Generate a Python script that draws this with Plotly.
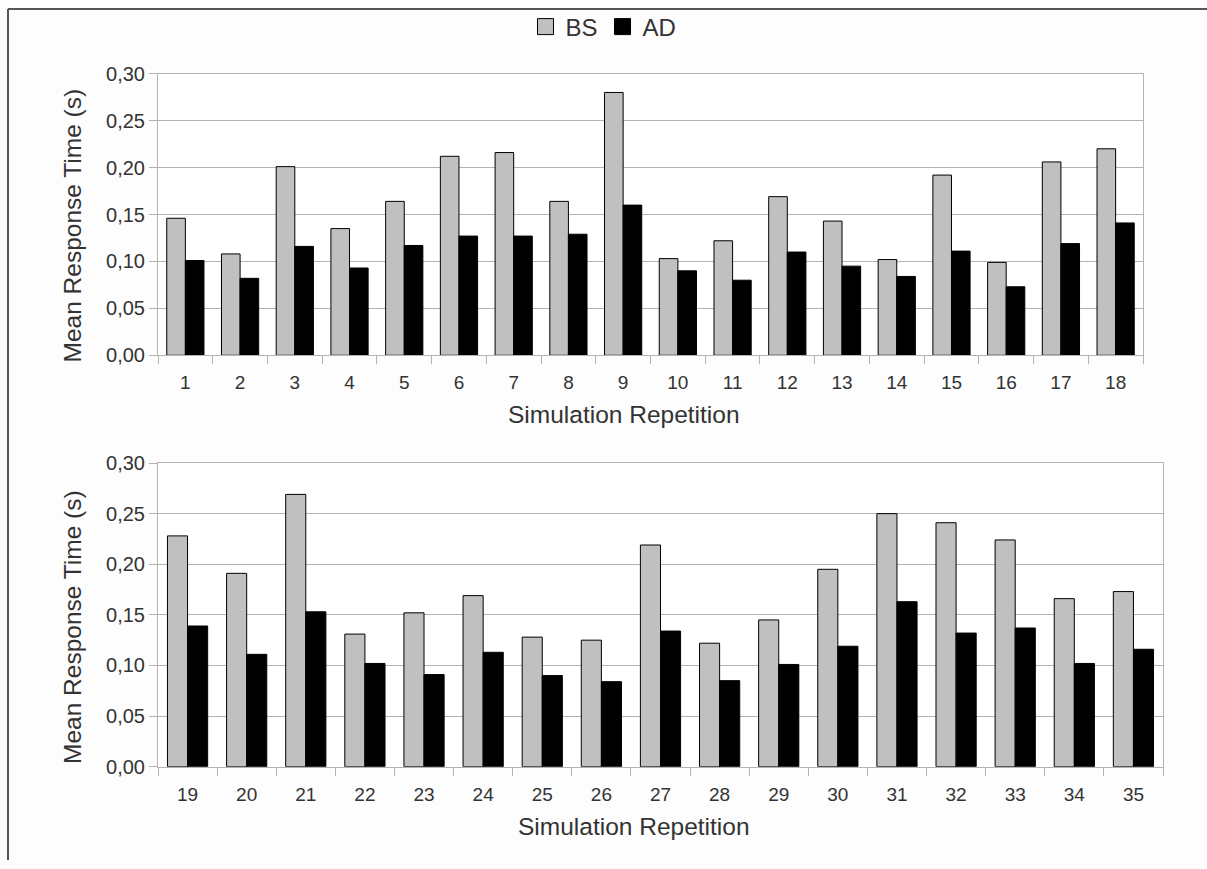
import plotly.graph_objects as go

# Mean response time per simulation repetition, BS vs AD
reps_top = [str(i) for i in range(1, 19)]
bs_top = [0.146, 0.108, 0.201, 0.135, 0.164, 0.212, 0.216, 0.164, 0.280,
          0.103, 0.122, 0.169, 0.143, 0.102, 0.192, 0.099, 0.206, 0.220]
ad_top = [0.101, 0.082, 0.116, 0.093, 0.117, 0.127, 0.127, 0.129, 0.160,
          0.090, 0.080, 0.110, 0.095, 0.084, 0.111, 0.073, 0.119, 0.141]

reps_bottom = [str(i) for i in range(19, 36)]
bs_bottom = [0.228, 0.191, 0.269, 0.131, 0.152, 0.169, 0.128, 0.125, 0.219,
             0.122, 0.145, 0.195, 0.250, 0.241, 0.224, 0.166, 0.173]
ad_bottom = [0.139, 0.111, 0.153, 0.102, 0.091, 0.113, 0.090, 0.084, 0.134,
             0.085, 0.101, 0.119, 0.163, 0.132, 0.137, 0.102, 0.116]

y_ticks = [0.0, 0.05, 0.10, 0.15, 0.20, 0.25, 0.30]

series_names = ["BS", "AD"]
series_colors = ["#c0c0c0", "#000000"]

W, H = 1207, 869
FONT = "Liberation Sans"
TXT = "#333333"
GRID = "#b3b3b3"


def px_x(p):
    return p / W


def px_y(p):
    return 1 - p / H


fig = go.Figure()

panels = [("x", "y", reps_top, [bs_top, ad_top]),
          ("x2", "y2", reps_bottom, [bs_bottom, ad_bottom])]
for xa, ya, cats, values in panels:
    for name, color, vals in zip(series_names, series_colors, values):
        fig.add_trace(go.Bar(x=cats, y=vals, name=name, showlegend=False,
                             marker=dict(color=color, line=dict(color="#000000", width=1)),
                             xaxis=xa, yaxis=ya))

# legend entries with larger square swatches
for name, color in zip(series_names, series_colors):
    fig.add_trace(go.Scatter(x=[None], y=[None], name=name, mode="markers",
                             marker=dict(symbol="square", size=16, color=color,
                                         line=dict(color="#000000", width=1)),
                             xaxis="x", yaxis="y", hoverinfo="skip"))

xaxis_common = dict(
    type="category", showgrid=False, showline=True, linecolor=GRID, linewidth=1, mirror=True,
    ticks="outside", tickson="boundaries", ticklen=8, tickcolor=GRID, tickwidth=1,
    tickfont=dict(family=FONT, size=19, color=TXT), automargin=False, ticklabelstandoff=10,
)
yaxis_common = dict(
    range=[0, 0.30], tickvals=y_ticks, tickformat=".2f",
    showgrid=True, gridcolor=GRID, gridwidth=1, zeroline=False,
    showline=True, linecolor=GRID, linewidth=1, mirror=True,
    ticks="outside", ticklen=8, tickcolor=GRID, tickwidth=1,
    tickfont=dict(family=FONT, size=20, color=TXT), automargin=False,
)

title_font = dict(family=FONT, size=24.5, color=TXT)
annotations = [
    dict(text="Simulation Repetition", x=px_x(624.5), y=px_y(414), xref="paper", yref="paper",
         showarrow=False, xanchor="center", yanchor="middle", font=title_font),
    dict(text="Simulation Repetition", x=px_x(634), y=px_y(826), xref="paper", yref="paper",
         showarrow=False, xanchor="center", yanchor="middle", font=title_font),
    dict(text="Mean Response Time (s)", x=px_x(72), y=px_y(225.5), xref="paper", yref="paper",
         showarrow=False, xanchor="center", yanchor="middle", textangle=-90, font=title_font),
    dict(text="Mean Response Time (s)", x=px_x(72), y=px_y(627), xref="paper", yref="paper",
         showarrow=False, xanchor="center", yanchor="middle", textangle=-90, font=title_font),
]

fig.update_layout(
    template="none",
    width=W, height=H,
    margin=dict(l=0, r=0, t=0, b=0, pad=0, autoexpand=False),
    paper_bgcolor="#fdfdfd", plot_bgcolor="#ffffff",
    separators=",.",
    barmode="group", bargap=0.32, bargroupgap=0.0,
    font=dict(family=FONT, color=TXT),
    xaxis=dict(xaxis_common, domain=[px_x(158), px_x(1143)], anchor="y"),
    yaxis=dict(yaxis_common, domain=[px_y(355.3), px_y(73.7)], anchor="x"),
    xaxis2=dict(xaxis_common, domain=[px_x(158), px_x(1163)], anchor="y2"),
    yaxis2=dict(yaxis_common, domain=[px_y(766.7), px_y(463)], anchor="x2"),
    legend=dict(orientation="h", x=0.5, xanchor="center", y=px_y(27), yanchor="middle",
                font=dict(family=FONT, size=24, color=TXT), bgcolor="rgba(0,0,0,0)",
                itemwidth=30, traceorder="normal", itemsizing="trace"),
    annotations=annotations,
    shapes=[
        dict(type="line", xref="paper", yref="paper", x0=px_x(8), x1=1, y0=px_y(9), y1=px_y(9),
             line=dict(color="#555555", width=2)),
        dict(type="line", xref="paper", yref="paper", x0=px_x(8), x1=px_x(8), y0=px_y(9), y1=px_y(860),
             line=dict(color="#555555", width=2)),
    ],
)

fig.write_html("out.html")
